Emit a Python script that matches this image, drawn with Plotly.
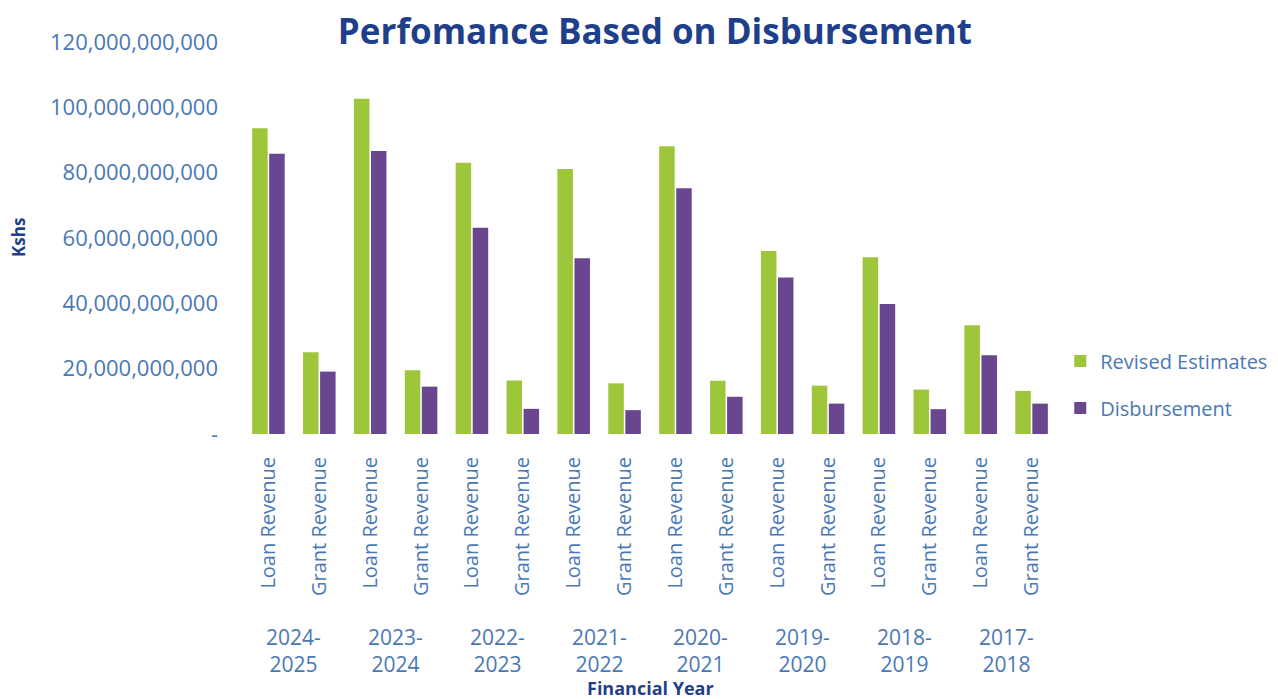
import plotly.graph_objects as go

years = ["2024-<br>2025", "2023-<br>2024", "2022-<br>2023", "2021-<br>2022",
         "2020-<br>2021", "2019-<br>2020", "2018-<br>2019", "2017-<br>2018"]
types = ["Loan Revenue", "Grant Revenue"]

# values in Kshs (billions)
revised_loan = [93.6, 102.6, 83.0, 81.1, 88.1, 56.0, 54.1, 33.3]
revised_grant = [25.0, 19.5, 16.4, 15.5, 16.3, 14.8, 13.6, 13.2]
disb_loan = [85.8, 86.6, 63.1, 53.8, 75.2, 47.9, 39.8, 24.1]
disb_grant = [19.1, 14.5, 7.7, 7.3, 11.4, 9.3, 7.6, 9.3]

y_tickvals = [0, 20e9, 40e9, 60e9, 80e9, 100e9, 120e9]
y_ticktext = ["-", "20,000,000,000", "40,000,000,000", "60,000,000,000",
              "80,000,000,000", "100,000,000,000", "120,000,000,000"]

cats, cat_labels, rev, dis = [], [], [], []
for i, yr in enumerate(years):
    for t, rv, dv in ((types[0], revised_loan[i], disb_loan[i]),
                      (types[1], revised_grant[i], disb_grant[i])):
        cats.append(f"{yr} | {t}")
        cat_labels.append(t)
        rev.append(rv * 1e9)
        dis.append(dv * 1e9)

label_color = "#4a78b5"
navy = "#1f3f8a"
font_family = "Open Sans, sans-serif"

fig = go.Figure()
fig.add_trace(go.Bar(name="Revised Estimates", x=cats, y=rev,
                     legendgroup="a",
                     marker=dict(color="#9dc63a", line=dict(width=0))))
fig.add_trace(go.Bar(name="Disbursement", x=cats, y=dis,
                     legendgroup="b",
                     marker=dict(color="#6a4690", line=dict(width=0))))

annotations = [
    dict(text="<b>Kshs</b>", xref="paper", yref="paper",
         x=-0.2764, y=0.5, xanchor="center", yanchor="middle",
         textangle=-90, showarrow=False,
         font=dict(size=17, color=navy)),
    dict(text="<b>Financial Year</b>", xref="paper", yref="paper",
         x=0.5, y=-0.647, xanchor="center", yanchor="middle",
         showarrow=False, font=dict(size=18, color=navy)),
]
for i, yr in enumerate(years):
    annotations.append(dict(text=yr, xref="x", yref="paper",
                            x=2 * i + 0.5, y=-0.552,
                            xanchor="center", yanchor="middle",
                            showarrow=False,
                            font=dict(size=21, color=label_color)))

fig.update_layout(
    width=1270, height=691,
    paper_bgcolor="white", plot_bgcolor="white",
    margin=dict(l=235, r=221, t=34, b=265, autoexpand=False),
    barmode="group", bargap=0.33, bargroupgap=0.09,
    font=dict(family=font_family, color=label_color),
    title=dict(text="<b>Perfomance Based on Disbursement</b>",
               x=0.5094, xanchor="center", y=0.9653, yanchor="middle",
               font=dict(size=35, color=navy, family=font_family)),
    legend=dict(x=1.004, xanchor="left", y=0.126, yanchor="middle",
                font=dict(size=20, color=label_color),
                traceorder="grouped", tracegroupgap=18,
                itemsizing="constant", itemwidth=30),
    annotations=annotations,
)

fig.update_xaxes(
    type="category", tickvals=cats, ticktext=cat_labels, tickangle=-90,
    showline=False, showgrid=False, ticks="", ticklabelstandoff=18,
    tickfont=dict(size=20, color=label_color),
)
fig.update_yaxes(
    range=[0, 120e9], tickvals=y_tickvals, ticktext=y_ticktext,
    showgrid=False, zeroline=False, showline=False, ticks="",
    ticklabelstandoff=24,
    tickfont=dict(size=22, color=label_color),
)

fig.write_html("out.html")
